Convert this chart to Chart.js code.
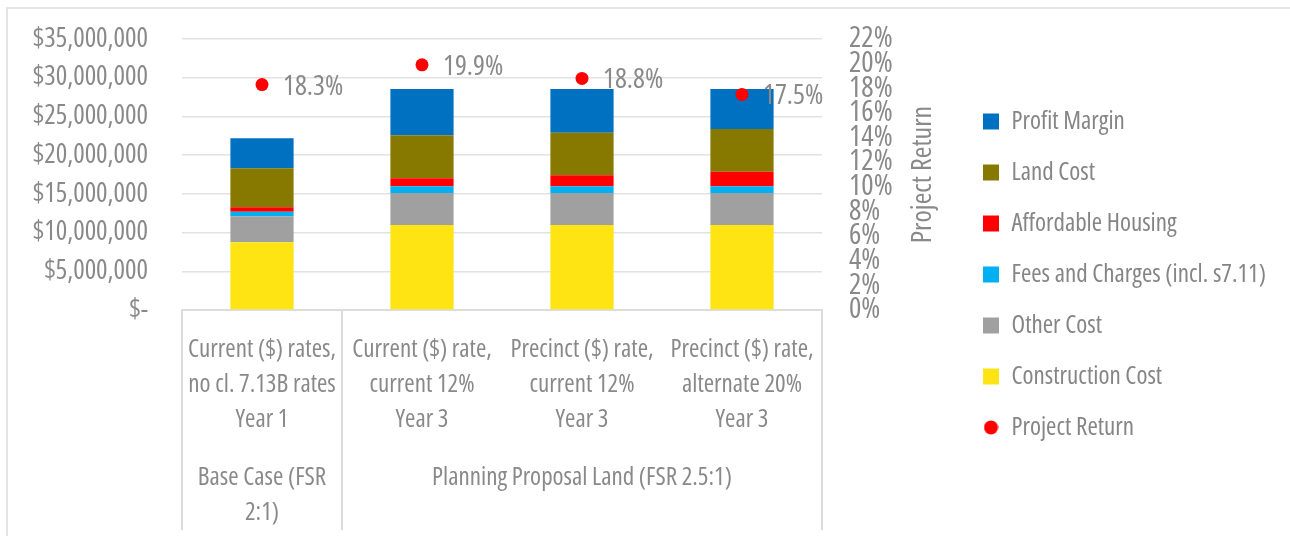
<!DOCTYPE html>
<html>
<head>
<meta charset="utf-8">
<script src="https://cdn.jsdelivr.net/npm/chart.js@4.4.1/dist/chart.umd.min.js"></script>
<style>
  html, body { margin: 0; padding: 0; background: #fff; overflow: hidden; }
  #wrap { position: relative; width: 1290px; height: 536px; }
</style>
</head>
<body>
<div id="wrap"><canvas id="chart"></canvas></div>
<script>
// category labels (one array per bar, one entry per line)
const categories = [
  ["Current ($) rates,", "no cl. 7.13B rates", "Year 1"],
  ["Current ($) rate,", "current 12%", "Year 3"],
  ["Precinct ($) rate,", "current 12%", "Year 3"],
  ["Precinct ($) rate,", "alternate 20%", "Year 3"],
];
const groupLabels = [["Base Case (FSR", "2:1)"], ["Planning Proposal Land (FSR 2.5:1)"]];
const groupSpans = [1, 3];

// stacked cost components, bottom to top ($)
const constructionCost = [8740000, 10980000, 10980000, 10980000];
const otherCost = [3360000, 4130000, 4130000, 4130000];
const feesAndCharges = [600000, 860000, 860000, 860000];
const affordableHousing = [560000, 1030000, 1420000, 1890000];
const landCost = [5040000, 5560000, 5510000, 5520000];
const profitMargin = [3870000, 5980000, 5640000, 5160000];

// project return (%)
const projectReturn = [18.3, 19.9, 18.8, 17.5];

const FONT = "'Open Sans', 'DejaVu Sans', sans-serif";
const STRETCH = "condensed";
const TEXT = "#898989";
const LINE = "#dcdcdc";

const barSet = (label, data, color) => ({
  type: "bar",
  label,
  data,
  backgroundColor: color,
  borderWidth: 0,
  yAxisID: "y",
  barPercentage: 0.395,
  categoryPercentage: 1,
});

// small red dot used for the legend entry of the point series
const dot = document.createElement("canvas");
dot.width = 15;
dot.height = 15;
const dctx = dot.getContext("2d");
dctx.fillStyle = "#ff0000";
dctx.beginPath();
dctx.arc(7.5, 7.5, 7, 0, Math.PI * 2);
dctx.fill();

// keep tick padding from pushing the plot area down
const noVPad = (scale, width) => {
  scale.width = width;
  scale.paddingTop = 0;
  scale.paddingBottom = 0;
};

const decor = {
  id: "decor",
  afterInit(chart) {
    const legend = chart.legend;
    const fit = legend.fit.bind(legend);
    legend.fit = () => {
      fit();
      legend.width = 333;
    };
  },
  afterLayout(chart) {
    chart.legend.top -= 10;
    chart.legend.bottom -= 10;
  },
  beforeDraw(chart) {
    const { ctx, width, height } = chart;
    ctx.save();
    ctx.strokeStyle = LINE;
    ctx.lineWidth = 1.5;
    ctx.beginPath();
    ctx.moveTo(7, height);
    ctx.lineTo(7, 8);
    ctx.lineTo(width, 8);
    ctx.stroke();
    ctx.restore();
  },
  afterDraw(chart) {
    const { ctx, chartArea } = chart;
    const x = chart.scales.x;
    const half = (x.getPixelForTick(1) - x.getPixelForTick(0)) / 2;
    ctx.save();

    // category group separators and group labels
    ctx.strokeStyle = LINE;
    ctx.lineWidth = 2;
    let start = 0;
    const edges = [x.getPixelForTick(0) - half];
    groupSpans.forEach((span) => {
      start += span;
      edges.push(x.getPixelForTick(start - 1) + half);
    });
    ctx.beginPath();
    edges.forEach((ex) => {
      ctx.moveTo(ex, chartArea.bottom);
      ctx.lineTo(ex, x.bottom);
    });
    ctx.stroke();

    ctx.fillStyle = TEXT;
    ctx.font = `${STRETCH} 25px ${FONT}`;
    ctx.textAlign = "center";
    ctx.textBaseline = "middle";
    groupLabels.forEach((lines, g) => {
      const cx = (edges[g] + edges[g + 1]) / 2;
      lines.forEach((t, i) => ctx.fillText(t, cx, chartArea.bottom + 168 + i * 35));
    });

    // right axis title, reading upwards
    ctx.font = `${STRETCH} 28px ${FONT}`;
    ctx.translate(923, (chartArea.top + chartArea.bottom) / 2);
    ctx.rotate(-Math.PI / 2);
    ctx.fillText("Project Return", 0, 0);
    ctx.restore();

    // point value labels
    ctx.save();
    const idx = chart.data.datasets.findIndex((d) => d.type === "line");
    const meta = chart.getDatasetMeta(idx);
    ctx.fillStyle = TEXT;
    ctx.font = `${STRETCH} 28px ${FONT}`;
    ctx.textAlign = "left";
    ctx.textBaseline = "middle";
    meta.data.forEach((pt, i) => {
      ctx.fillText(projectReturn[i].toFixed(1) + "%", pt.x + 21, pt.y + 2);
    });
    ctx.restore();
  },
};

new Chart(document.getElementById("chart"), {
  data: {
    labels: categories,
    datasets: [
      barSet("Construction Cost", constructionCost, "#fee412"),
      barSet("Other Cost", otherCost, "#a0a0a0"),
      barSet("Fees and Charges (incl. s7.11)", feesAndCharges, "#00b0f0"),
      barSet("Affordable Housing", affordableHousing, "#ff0000"),
      barSet("Land Cost", landCost, "#877800"),
      barSet("Profit Margin", profitMargin, "#0070c0"),
      {
        type: "line",
        label: "Project Return",
        data: projectReturn,
        yAxisID: "y1",
        showLine: false,
        pointRadius: 6.5,
        pointHoverRadius: 6.5,
        pointBackgroundColor: "#ff0000",
        pointBorderWidth: 0,
        backgroundColor: "#ff0000",
        borderColor: "#ff0000",
        order: -1,
      },
    ],
  },
  options: {
    responsive: true,
    maintainAspectRatio: false,
    animation: false,
    layout: { padding: { left: 7, top: 39, bottom: 6, right: 0 } },
    plugins: {
      tooltip: { enabled: false },
      legend: {
        position: "right",
        labels: {
          usePointStyle: true,
          boxWidth: 16,
          boxHeight: 16,
          padding: 26,
          color: "#858585",
          font: { family: FONT, weight: STRETCH, size: 25 },
          generateLabels(chart) {
            const items = Chart.defaults.plugins.legend.labels.generateLabels(chart);
            const isLine = (it) => chart.data.datasets[it.datasetIndex].type === "line";
            const bars = items.filter((it) => !isLine(it)).reverse()
              .map((it) => ({ ...it, pointStyle: "rect", lineWidth: 0 }));
            const pts = items.filter(isLine).map((it) => ({ ...it, pointStyle: dot, lineWidth: 0 }));
            return [...bars, ...pts];
          },
        },
      },
    },
    scales: {
      x: {
        stacked: true,
        offset: true,
        grid: { display: false, drawTicks: false },
        border: { display: true, color: LINE, width: 2 },
        ticks: {
          color: TEXT,
          font: { family: FONT, weight: STRETCH, size: 25, lineHeight: 35 / 25 },
          padding: 22,
          autoSkip: false,
          maxRotation: 0,
        },
        afterFit(scale) {
          scale.height = 220;
        },
      },
      y: {
        stacked: true,
        position: "left",
        min: 0,
        max: 35000000,
        grid: { color: "#e2e2e2", lineWidth: 1.5, drawTicks: false },
        border: { display: false },
        ticks: {
          stepSize: 5000000,
          color: TEXT,
          font: { family: FONT, weight: STRETCH, size: 27 },
          padding: 34,
          callback: (v) => (v === 0 ? "$-" : "$" + v.toLocaleString("en-US")),
        },
        afterFit: (scale) => noVPad(scale, 175),
      },
      y1: {
        position: "right",
        min: 0,
        max: 22,
        grid: { display: false, drawTicks: false },
        border: { display: false },
        ticks: {
          stepSize: 2,
          autoSkip: false,
          color: TEXT,
          font: { family: FONT, weight: STRETCH, size: 29 },
          padding: 27,
          callback: (v) => v + "%",
        },
        afterFit: (scale) => noVPad(scale, 135),
      },
    },
  },
  plugins: [decor],
});
</script>
</body>
</html>
